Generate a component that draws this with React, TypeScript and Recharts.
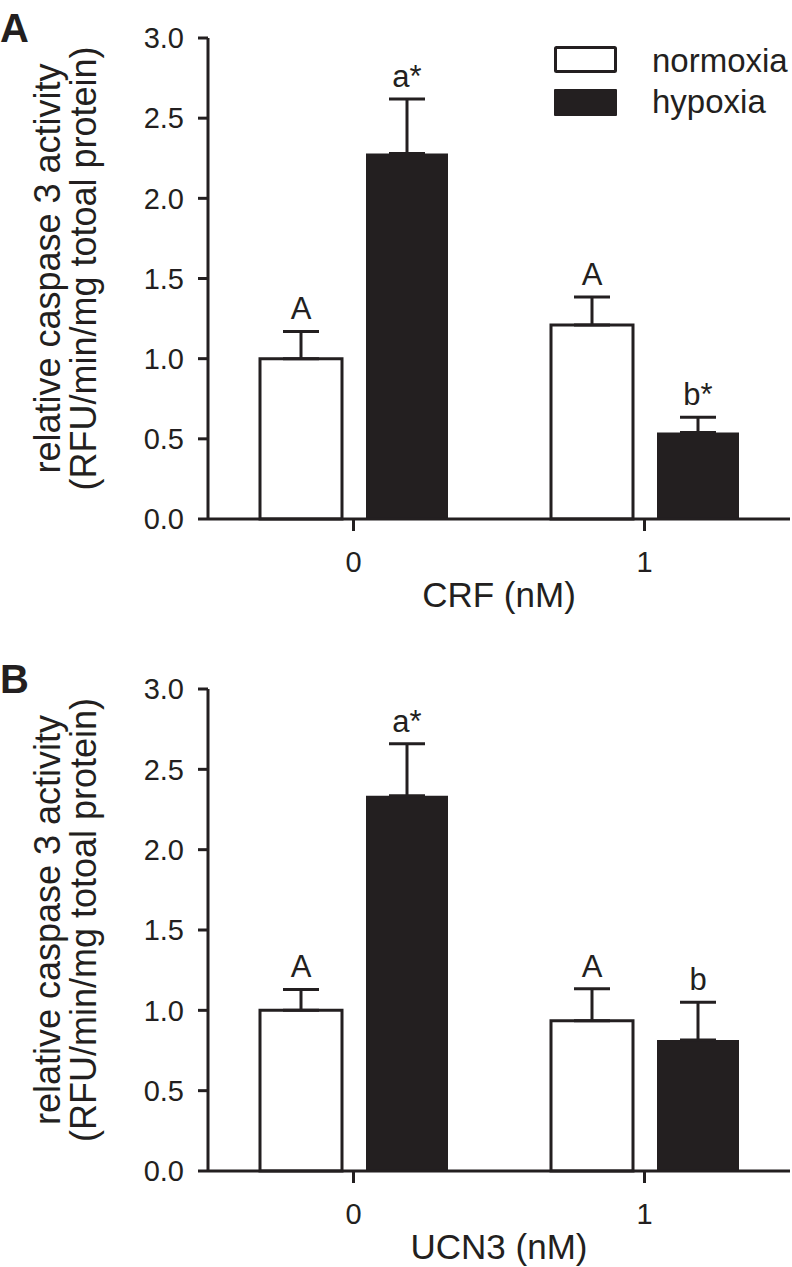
import { BarChart, Bar, XAxis, YAxis, ErrorBar, LabelList, Legend } from "recharts";

const doses = ["0", "1"];
const seriesNames = ["normoxia", "hypoxia"];
const yTicks = [0, 0.5, 1, 1.5, 2, 2.5, 3];

// panel A: CRF
const crfNormoxia = [1.0, 1.21];
const crfNormoxiaErr = [0.17, 0.175];
const crfHypoxia = [2.28, 0.54];
const crfHypoxiaErr = [0.34, 0.095];
const crfNormoxiaMarks = ["A", "A"];
const crfHypoxiaMarks = ["a*", "b*"];

// panel B: UCN3
const ucnNormoxia = [1.0, 0.935];
const ucnNormoxiaErr = [0.13, 0.2];
const ucnHypoxia = [2.335, 0.815];
const ucnHypoxiaErr = [0.325, 0.235];
const ucnNormoxiaMarks = ["A", "A"];
const ucnHypoxiaMarks = ["a*", "b"];

const INK = "#231f20";
const FONT = "'Liberation Sans', Arial, sans-serif";

type Row = {
  dose: string;
  normoxia: number;
  hypoxia: number;
  normoxiaErr: [number, number];
  hypoxiaErr: [number, number];
  normoxiaMark: string;
  hypoxiaMark: string;
};

function buildRows(n: number[], nErr: number[], h: number[], hErr: number[], nMark: string[], hMark: string[]): Row[] {
  return doses.map((dose, i) => ({
    dose,
    normoxia: n[i],
    hypoxia: h[i],
    normoxiaErr: [0, nErr[i]],
    hypoxiaErr: [0, hErr[i]],
    normoxiaMark: nMark[i],
    hypoxiaMark: hMark[i],
  }));
}

// letter above the error bar cap; px per unit taken from the drawn bar
function markContent(rows: Row[], key: "normoxia" | "hypoxia") {
  return (props: any) => {
    const { x, y, width, height, index, value } = props;
    const row = rows[index];
    if (!row) return null;
    const v = row[key];
    const err = row[`${key}Err` as "normoxiaErr"][1];
    const capY = y - (err * height) / v;
    return (
      <text x={x + width / 2} y={capY - 12} textAnchor="middle" fontSize={31} fontFamily={FONT} fill={INK}>
        {value}
      </text>
    );
  };
}

function YTitle({ viewBox, letter }: any) {
  const { y, height } = viewBox;
  const cy = y + height / 2 - 10;
  return (
    <g fontFamily={FONT} fill={INK}>
      <text x={0} y={y + 4} fontSize={40} fontWeight="bold">
        {letter}
      </text>
      <text x={47} y={cy} fontSize={36} textAnchor="middle" dominantBaseline="central" transform={`rotate(-90 47 ${cy})`}>
        relative caspase 3 activity
      </text>
      <text x={83} y={cy} fontSize={36} textAnchor="middle" dominantBaseline="central" transform={`rotate(-90 83 ${cy})`}>
        (RFU/min/mg totoal protein)
      </text>
    </g>
  );
}

function XTitle({ viewBox, text }: any) {
  const { x, y, width } = viewBox;
  return (
    <text x={x + width / 2} y={y + 88} textAnchor="middle" fontSize={35} fontFamily={FONT} fill={INK}>
      {text}
    </text>
  );
}

function LegendBox() {
  return (
    <svg width={236} height={80} style={{ display: "block", overflow: "visible" }}>
      <rect x={1.5} y={1.5} width={60} height={24} fill="#fff" stroke={INK} strokeWidth={3} rx={1} />
      <rect x={0} y={43} width={63} height={27} fill={INK} rx={1} />
      <text x={98} y={26} fontSize={33} fontFamily={FONT} fill={INK}>
        {seriesNames[0]}
      </text>
      <text x={98} y={67} fontSize={33} fontFamily={FONT} fill={INK}>
        {seriesNames[1]}
      </text>
    </svg>
  );
}

function Panel({
  rows,
  letter,
  xTitle,
  height,
  top,
  axisHeight,
  showLegend,
}: {
  rows: Row[];
  letter: string;
  xTitle: string;
  height: number;
  top: number;
  axisHeight: number;
  showLegend?: boolean;
}) {
  return (
    <BarChart width={792} height={height} data={rows} margin={{ top, right: 2, left: 0, bottom: 0 }} barSize={82} barGap={24}>
      <XAxis
        dataKey="dose"
        stroke={INK}
        strokeWidth={3}
        tickSize={12}
        tickMargin={20}
        tick={{ fontSize: 29, fontFamily: FONT, fill: INK }}
        height={axisHeight}
        label={<XTitle text={xTitle} />}
      />
      <YAxis
        domain={[0, 3]}
        ticks={yTicks}
        interval={0}
        tickFormatter={(v: number) => v.toFixed(1)}
        stroke={INK}
        strokeWidth={3}
        tickSize={10}
        tickMargin={14}
        width={208}
        tick={{ fontSize: 29, fontFamily: FONT, fill: INK }}
        label={<YTitle letter={letter} />}
      />
      {showLegend && (
        <Legend
          layout="vertical"
          align="center"
          verticalAlign="middle"
          content={() => <LegendBox />}
          wrapperStyle={{ left: 554, top: 46, width: 236, height: 80 }}
        />
      )}
      <Bar dataKey="normoxia" name={seriesNames[0]} fill="#ffffff" stroke={INK} strokeWidth={3} isAnimationActive={false}>
        <ErrorBar dataKey="normoxiaErr" direction="y" width={18} stroke={INK} strokeWidth={3} isAnimationActive={false} />
        <LabelList dataKey="normoxiaMark" content={markContent(rows, "normoxia")} />
      </Bar>
      <Bar dataKey="hypoxia" name={seriesNames[1]} fill={INK} isAnimationActive={false}>
        <ErrorBar dataKey="hypoxiaErr" direction="y" width={18} stroke={INK} strokeWidth={3} isAnimationActive={false} />
        <LabelList dataKey="hypoxiaMark" content={markContent(rows, "hypoxia")} />
      </Bar>
    </BarChart>
  );
}

const crfRows = buildRows(crfNormoxia, crfNormoxiaErr, crfHypoxia, crfHypoxiaErr, crfNormoxiaMarks, crfHypoxiaMarks);
const ucnRows = buildRows(ucnNormoxia, ucnNormoxiaErr, ucnHypoxia, ucnHypoxiaErr, ucnNormoxiaMarks, ucnHypoxiaMarks);

export default function App() {
  return (
    <div style={{ position: "absolute", left: 0, top: 0, width: 792, height: 1267, background: "#fff" }}>
      <Panel rows={crfRows} letter="A" xTitle="CRF (nM)" height={640} top={38} axisHeight={121} showLegend />
      <Panel rows={ucnRows} letter="B" xTitle="UCN3 (nM)" height={627} top={49} axisHeight={96} />
    </div>
  );
}
